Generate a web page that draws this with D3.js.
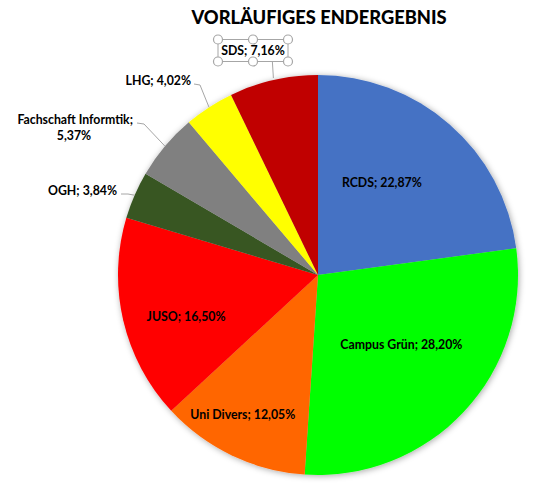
<!DOCTYPE html>
<html><head><meta charset="utf-8">
<script src="https://cdn.jsdelivr.net/npm/d3@7/dist/d3.min.js"></script>
<style>
html,body{margin:0;padding:0;background:#fff;}
svg{display:block;font-family:Lato,"Open Sans",sans-serif;}
</style></head>
<body>
<svg id="c" width="557" height="485"></svg>
<script>
const categories = ["RCDS","Campus Grün","Uni Divers","JUSO","OGH","Fachschaft Informtik","LHG","SDS"];
const values = [22.87, 28.20, 12.05, 16.50, 3.84, 5.37, 4.02, 7.16];
const valueLabels = ["22,87%","28,20%","12,05%","16,50%","3,84%","5,37%","4,02%","7,16%"];
const colors = ["#4472C4","#00FF00","#FF6600","#FF0000","#375623","#808080","#FFFF00","#C00000"];
const title = "VORLÄUFIGES ENDERGEBNIS";

const W = 557, H = 485;
const cx = 318, cy = 275, R = 200;
const svg = d3.select("#c");

const defs = svg.append("defs");
const f = defs.append("filter").attr("id","sh").attr("x","-10%").attr("y","-10%").attr("width","120%").attr("height","120%");
f.append("feDropShadow").attr("dx",1).attr("dy",1).attr("stdDeviation",3).attr("flood-color","#000").attr("flood-opacity",0.35);

svg.append("text").attr("x", 319).attr("y", 24).attr("text-anchor","middle")
  .attr("font-size", 18.3).attr("font-weight","900").attr("fill","#000").text(title);

const data = categories.map((c,i)=>({name:c, value:values[i], label:valueLabels[i], color:colors[i]}));
const pie = d3.pie().value(d=>d.value).sort(null);
const arcs = pie(data);
const arc = d3.arc().innerRadius(0).outerRadius(R);

const g = svg.append("g").attr("transform",`translate(${cx},${cy})`);
const pg = g.append("g").attr("filter","url(#sh)");
pg.selectAll("path").data(arcs).join("path").attr("d",arc).attr("fill",d=>d.data.color);

// inside labels: [radius, angle shift in degrees]
const inside = {"RCDS":[112,-6.4], "Campus Grün":[109,-3], "Uni Divers":[159,2.7], "JUSO":[138.5,-4.6]};
const fs = 12.3;
const dyc = 4.3;
arcs.forEach(a=>{
  const mid = (a.startAngle+a.endAngle)/2;
  const nm = a.data.name;
  const txt = nm + "; " + a.data.label;
  if (inside[nm]) {
    const [r, sh] = inside[nm];
    const ang = mid + sh*Math.PI/180;
    g.append("text").attr("x", r*Math.sin(ang)).attr("y", -r*Math.cos(ang)+dyc)
      .attr("text-anchor","middle").attr("font-size",fs).attr("font-weight","bold").text(txt);
  }
});

// outside labels with leader lines
const ex = a => { const m=(a.startAngle+a.endAngle)/2; return [R*Math.sin(m), -R*Math.cos(m)]; };
const byName = {}; arcs.forEach(a=>byName[a.data.name]=a);
const lc = "#A6A6A6";
function line(pts){ g.append("polyline").attr("points",pts.map(p=>p.join(",")).join(" ")).attr("fill","none").attr("stroke",lc).attr("stroke-width",1); }

// SDS
{
  const a = byName["SDS"]; const [x0,y0] = ex(a);
  line([[x0,y0-2],[x0-1,62-cy]]);
  const bx=218-cx, by=39.5-cy, bw=70, bh=22;
  g.append("rect").attr("x",bx).attr("y",by).attr("width",bw).attr("height",bh).attr("fill","none").attr("stroke","#A6A6A6").attr("stroke-width",1);
  g.append("text").attr("x",bx+bw/2).attr("y",by+15.5).attr("text-anchor","middle").attr("font-size",fs).attr("font-weight","bold").text("SDS; " + a.data.label);
  [[bx,by],[bx+bw/2,by],[bx+bw,by],[bx,by+bh],[bx+bw/2,by+bh],[bx+bw,by+bh]].forEach(p=>{
    g.append("circle").attr("cx",p[0]).attr("cy",p[1]).attr("r",4.5).attr("fill","#fff").attr("stroke","#A6A6A6").attr("stroke-width",1.2);
  });
}
// LHG
{
  const a = byName["LHG"]; const [x0,y0] = ex(a);
  line([[x0,y0],[200-cx,85-cy],[194-cx,84-cy]]);
  g.append("text").attr("x",191-cx).attr("y",85-cy).attr("text-anchor","end").attr("font-size",fs).attr("font-weight","bold").text("LHG; " + a.data.label);
}
// Fachschaft
{
  const a = byName["Fachschaft Informtik"]; const [x0,y0] = ex(a);
  line([[x0,y0],[144-cx,124-cy],[137-cx,123-cy]]);
  g.append("text").attr("x",133-cx).attr("y",124-cy).attr("text-anchor","end").attr("font-size",fs).attr("font-weight","bold").text("Fachschaft Informtik;");
  g.append("text").attr("x",74-cx).attr("y",139.5-cy).attr("text-anchor","middle").attr("font-size",fs).attr("font-weight","bold").text(a.data.label);
}
// OGH
{
  const a = byName["OGH"]; const [x0,y0] = ex(a);
  line([[x0,y0],[128-cx,194-cy],[121-cx,194-cy]]);
  g.append("text").attr("x",117-cx).attr("y",194.5-cy).attr("text-anchor","end").attr("font-size",fs).attr("font-weight","bold").text("OGH; " + a.data.label);
}
</script>
</body></html>
